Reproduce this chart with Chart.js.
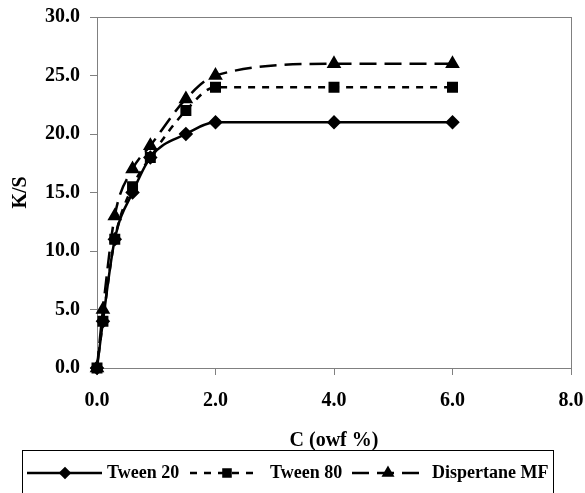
<!DOCTYPE html>
<html>
<head>
<meta charset="utf-8">
<script src="https://cdn.jsdelivr.net/npm/chart.js@4/dist/chart.umd.min.js"></script>
<style>
  html, body { margin: 0; padding: 0; background: #fff; }
  #wrap { width: 585px; height: 493px; position: relative; }
</style>
</head>
<body>
<div id="wrap"><canvas id="ksChart"></canvas></div>
<script>
// concentration (owf %) and K/S readings
var concentrations = [0, 0.1, 0.3, 0.6, 0.9, 1.5, 2, 4, 6];
var tween20 = [0, 4, 11, 15, 18, 20, 21, 21, 21];
var tween80 = [0, 4, 11, 15.5, 18, 22, 24, 24, 24];
var dispertane = [0, 5, 13, 17, 19, 23, 25, 26, 26];
var seriesNames = ['Tween 20', 'Tween 80', 'Dispertane MF'];

var serif = '"Liberation Serif", "Times New Roman", serif';

function pts(vals) {
    return concentrations.map(function (c, i) { return { x: c, y: vals[i] }; });
}

// draws a box around the plot and the legend under the chart
var frameAndLegend = {
    id: 'frameAndLegend',
    beforeDatasetsDraw: function (chart) {
        var ctx = chart.ctx, a = chart.chartArea;
        ctx.save();
        ctx.strokeStyle = '#808080';
        ctx.lineWidth = 1;
        ctx.strokeRect(Math.round(a.left) + 0.5, Math.round(a.top) + 0.5,
            Math.round(a.right - a.left), Math.round(a.bottom - a.top));
        ctx.restore();
    },
    afterDraw: function (chart) {
        var ctx = chart.ctx;
        ctx.save();
        ctx.strokeStyle = '#000';
        ctx.lineWidth = 1;
        ctx.strokeRect(22.5, 450.5, 531, 60);

        var y = 473;
        var items = [
            { x0: 27, x1: 102, mx: 65, tx: 107, ds: 0 },
            { x0: 190, x1: 257, mx: 227, tx: 270, ds: 1 },
            { x0: 352, x1: 426, mx: 388, tx: 432, ds: 2 }
        ];
        items.forEach(function (it) {
            var d = chart.data.datasets[it.ds];
            ctx.strokeStyle = '#000';
            ctx.lineWidth = 2.5;
            ctx.setLineDash(d.borderDash || []);
            ctx.beginPath();
            ctx.moveTo(it.x0, y);
            ctx.lineTo(it.x1, y);
            ctx.stroke();
            ctx.setLineDash([]);
            ctx.fillStyle = '#000';
            Chart.helpers.drawPoint(ctx, {
                pointStyle: d.pointStyle, radius: d.pointRadius - 1,
                rotation: 0, borderWidth: 1
            }, it.mx, y);
            ctx.fill();
            ctx.font = 'bold 18px ' + serif;
            ctx.textBaseline = 'middle';
            ctx.textAlign = 'left';
            ctx.fillText(d.label, it.tx, y);
        });
        ctx.restore();
    }
};

var ctx = document.getElementById('ksChart');

var ksChart = new Chart(ctx, {
    type: 'scatter',
    data: {
        datasets: [{
            label: seriesNames[0],
            data: pts(tween20),
            showLine: true,
            clip: false,
            borderColor: '#000',
            backgroundColor: '#000',
            borderWidth: 2.5,
            cubicInterpolationMode: 'monotone',
            pointStyle: 'rectRot',
            pointRadius: 5.5,
            order: 3
        }, {
            label: seriesNames[1],
            data: pts(tween80),
            showLine: true,
            clip: false,
            borderColor: '#000',
            backgroundColor: '#000',
            borderWidth: 2.5,
            borderDash: [7, 7],
            cubicInterpolationMode: 'monotone',
            pointStyle: 'rect',
            pointRadius: 6,
            order: 2
        }, {
            label: seriesNames[2],
            data: pts(dispertane),
            showLine: true,
            clip: false,
            borderColor: '#000',
            backgroundColor: '#000',
            borderWidth: 2.5,
            borderDash: [17, 8],
            cubicInterpolationMode: 'monotone',
            pointStyle: 'triangle',
            pointRadius: 6,
            order: 1
        }]
    },
    options: {
        responsive: true,
        maintainAspectRatio: false,
        animation: false,
        layout: { padding: { left: 0, right: 14, top: 17, bottom: 40 } },
        plugins: {
            legend: { display: false },
            tooltip: { enabled: false }
        },
        scales: {
            x: {
                type: 'linear',
                min: 0,
                max: 8,
                afterFit: function (s) { s.height = 85; s.paddingLeft = 0; s.paddingRight = 0; },
                ticks: {
                    stepSize: 2,
                    color: '#000',
                    padding: 14,
                    font: { family: serif, size: 20, weight: 'bold' },
                    callback: function (v) { return v.toFixed(1); }
                },
                grid: { drawOnChartArea: false, tickLength: 7, color: '#808080' },
                border: { color: '#808080' },
                title: {
                    display: true,
                    text: 'C (owf %)',
                    color: '#000',
                    padding: 0,
                    font: { family: serif, size: 20, weight: 'bold' }
                }
            },
            y: {
                min: 0,
                max: 30,
                afterFit: function (s) { s.width = 97; s.paddingTop = 0; s.paddingBottom = 0; },
                ticks: {
                    stepSize: 5,
                    color: '#000',
                    padding: 10,
                    font: { family: serif, size: 20, weight: 'bold' },
                    callback: function (v) { return v.toFixed(1); }
                },
                grid: { drawOnChartArea: false, tickLength: 7, color: '#808080' },
                border: { color: '#808080' },
                title: {
                    display: true,
                    text: 'K/S',
                    color: '#000',
                    padding: 9,
                    font: { family: serif, size: 20, weight: 'bold' }
                }
            }
        }
    },
    plugins: [frameAndLegend]
});
</script>
</body>
</html>
